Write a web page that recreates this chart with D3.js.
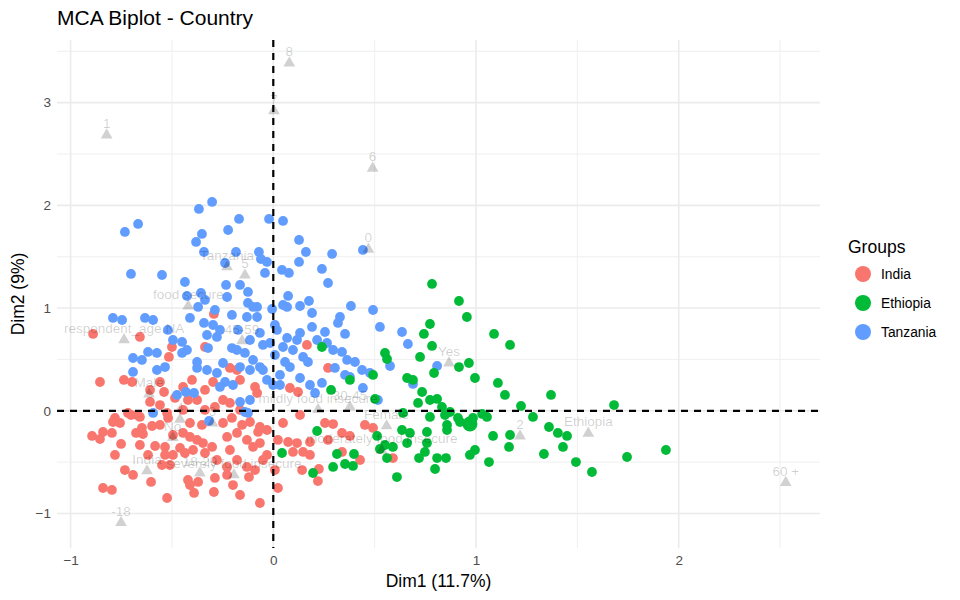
<!DOCTYPE html>
<html><head><meta charset="utf-8">
<script src="https://cdn.jsdelivr.net/npm/d3@7"></script>
<style>body{margin:0;background:#fff}svg{font-family:"Liberation Sans",Arial,Helvetica,sans-serif}</style>
</head><body><svg id="c" width="960" height="600"></svg>
<script>
// ---- data (Dim1, Dim2 coordinates) ----
const groups = ["India", "Ethiopia", "Tanzania"];
const groupColors = ["#F8766D", "#00BA38", "#619CFF"];

const india = [[-0.889,0.748],[-0.658,0.719],[-0.293,0.943],[-0.500,0.621],[-0.337,0.621],[-0.515,0.524],[-0.855,0.280],[-0.737,0.300],[-0.697,0.280],[-0.559,0.280],[-0.539,0.183],[-0.401,0.300],[-0.445,0.232],[-0.337,0.203],[-0.297,0.280],[-0.214,0.417],[-0.179,0.397],[-0.164,0.300],[-0.090,0.232],[-0.080,0.173],[-0.608,0.086],[-0.559,0.056],[-0.524,-0.021],[-0.421,0.105],[-0.376,0.105],[-0.248,0.105],[-0.214,0.076],[-0.288,0.037],[-0.445,0.008],[-0.702,-0.041],[-0.781,-0.070],[-0.658,-0.060],[-0.519,-0.070],[0.166,0.641],[0.270,0.417],[0.082,0.222],[0.122,0.183],[-0.066,-0.158],[0.048,-0.119],[0.132,-0.041],[0.255,-0.119],[0.295,-0.129],[0.339,-0.216],[0.378,-0.245],[0.452,-0.138],[0.492,-0.167],[0.181,-0.304],[0.270,-0.284],[0.117,-0.314],[0.073,-0.304],[0.023,-0.284],[0.097,-0.401],[0.147,-0.401],[0.181,-0.430],[-0.031,-0.430],[-0.066,-0.314],[0.428,-0.479],[0.590,-0.460],[0.142,-0.577],[0.225,-0.567],[0.220,-0.684],[0.023,-0.752],[-0.066,-0.898],[0.339,-0.401],[-0.894,-0.245],[-0.855,-0.275],[-0.840,-0.206],[-0.796,-0.216],[-0.791,-0.109],[-0.756,-0.119],[-0.751,-0.323],[-0.677,-0.216],[-0.643,-0.226],[-0.648,-0.167],[-0.598,-0.148],[-0.717,-0.021],[-0.672,-0.041],[-0.411,-0.119],[-0.352,-0.138],[-0.248,-0.119],[-0.204,-0.070],[-0.154,-0.138],[-0.115,-0.109],[-0.075,-0.206],[-0.031,-0.187],[-0.495,-0.236],[-0.445,-0.216],[-0.411,-0.255],[-0.376,-0.284],[-0.347,-0.314],[-0.302,-0.352],[-0.228,-0.255],[-0.179,-0.216],[-0.130,-0.284],[-0.100,-0.352],[-0.583,-0.343],[-0.534,-0.352],[-0.534,-0.430],[-0.495,-0.430],[-0.618,-0.430],[-0.549,-0.528],[-0.510,-0.528],[-0.436,-0.411],[-0.396,-0.382],[-0.337,-0.411],[-0.278,-0.479],[-0.228,-0.547],[-0.179,-0.479],[-0.130,-0.547],[-0.090,-0.577],[-0.051,-0.479],[-0.732,-0.577],[-0.692,-0.625],[-0.603,-0.693],[-0.421,-0.674],[-0.371,-0.693],[-0.391,-0.800],[-0.288,-0.654],[-0.293,-0.791],[-0.228,-0.625],[-0.199,-0.723],[-0.120,-0.645],[-0.840,-0.752],[-0.796,-0.771],[-0.524,-0.849],[-0.411,-0.723],[-0.608,0.203],[-0.485,0.125],[-0.337,0.008],[-0.164,0.008],[-0.460,-0.362],[-0.658,-0.333],[-0.781,-0.430],[-0.214,-0.382],[0.008,-0.577],[-0.164,-0.820],[-0.559,-0.138]];

const tanzania = [[-0.302,2.033],[-0.367,1.965],[-0.667,1.819],[-0.732,1.741],[-0.169,1.868],[-0.223,1.760],[-0.352,1.722],[-0.381,1.644],[-0.021,1.868],[-0.342,1.546],[-0.184,1.546],[-0.071,1.546],[-0.061,1.478],[-0.031,1.449],[-0.238,1.439],[-0.041,1.342],[-0.702,1.332],[-0.549,1.322],[-0.436,1.254],[-0.233,1.225],[-0.164,1.225],[-0.125,1.157],[-0.357,1.147],[-0.426,1.118],[-0.228,1.108],[-0.125,1.050],[-0.080,1.011],[-0.371,1.011],[0.048,1.848],[0.127,1.663],[0.161,1.546],[0.290,1.527],[0.442,1.566],[0.127,1.449],[0.043,1.371],[0.077,1.342],[0.240,1.381],[0.270,1.244],[0.073,1.118],[0.176,1.069],[0.048,1.030],[0.132,1.020],[0.383,1.020],[0.492,0.981],[-0.006,0.991],[-0.791,0.904],[-0.746,0.884],[-0.633,0.904],[-0.593,0.884],[-0.342,0.855],[-0.297,0.835],[-0.278,0.719],[-0.327,0.738],[-0.263,0.787],[-0.495,0.689],[-0.450,0.670],[-0.426,0.592],[-0.450,0.563],[-0.618,0.573],[-0.574,0.563],[-0.322,0.611],[-0.204,0.611],[-0.179,0.592],[-0.140,0.563],[-0.100,0.495],[-0.066,0.426],[-0.248,0.465],[-0.376,0.475],[-0.692,0.514],[-0.648,0.495],[-0.692,0.378],[-0.574,0.397],[-0.534,0.426],[-0.376,0.417],[-0.327,0.397],[-0.278,0.368],[-0.238,0.280],[-0.199,0.251],[-0.263,0.232],[-0.431,0.183],[-0.391,0.173],[-0.475,0.154],[-0.164,0.086],[-0.115,0.105],[-0.140,-0.012],[-0.593,-0.021],[-0.100,1.011],[-0.080,0.913],[-0.130,0.913],[-0.066,0.758],[-0.051,0.641],[-0.115,0.397],[0.068,1.011],[0.191,0.952],[0.329,0.913],[0.319,0.855],[0.191,0.816],[0.255,0.767],[0.354,0.748],[0.526,0.816],[0.635,0.767],[0.664,0.650],[0.132,0.758],[0.117,0.689],[0.068,0.709],[0.018,0.787],[0.008,0.835],[-0.016,0.660],[0.048,0.621],[0.097,0.592],[0.216,0.689],[0.265,0.660],[0.295,0.592],[0.339,0.573],[0.364,0.495],[0.403,0.475],[0.147,0.524],[0.171,0.475],[0.082,0.426],[0.304,0.417],[0.354,0.349],[0.438,0.397],[0.477,0.368],[0.576,0.436],[0.378,0.329],[-0.051,0.397],[0.033,0.349],[-0.031,0.300],[0.132,0.319],[0.181,0.251],[0.240,0.271],[0.206,0.173],[0.033,0.251],[-0.001,0.251],[0.442,0.222],[0.516,0.105],[0.689,0.261],[0.808,0.436],[-0.317,-0.099],[-0.125,-0.021],[-0.337,1.079],[-0.288,0.982],[-0.204,0.933],[-0.174,0.787],[-0.411,0.904],[-0.520,0.787],[-0.115,0.689],[0.008,0.543],[0.058,0.475],[-0.164,0.426]];

const ethiopia = [[0.783,1.235],[0.916,1.069],[0.955,0.913],[0.773,0.845],[0.743,0.748],[0.783,0.631],[0.551,0.563],[0.561,0.504],[0.724,0.524],[0.916,0.426],[0.965,0.465],[0.793,0.368],[0.995,0.319],[0.660,0.319],[0.689,0.300],[0.240,0.621],[0.378,0.300],[0.492,0.349],[0.285,0.203],[0.734,0.183],[0.714,0.076],[0.773,0.105],[0.808,0.115],[0.832,0.037],[0.502,0.115],[0.872,-0.012],[0.773,-0.060],[0.911,-0.070],[0.985,-0.070],[0.640,-0.021],[1.089,0.748],[1.168,0.641],[1.108,0.271],[1.143,0.154],[1.222,0.047],[1.370,0.154],[1.681,0.056],[1.030,-0.031],[1.054,-0.060],[1.281,-0.060],[1.084,-0.245],[1.168,-0.236],[1.163,-0.352],[1.360,-0.158],[1.404,-0.216],[1.449,-0.245],[1.429,-0.352],[1.335,-0.421],[1.493,-0.499],[1.572,-0.596],[1.745,-0.450],[1.937,-0.382],[0.995,-0.382],[0.970,-0.430],[1.064,-0.499],[0.847,-0.041],[0.921,-0.109],[0.857,-0.138],[0.857,-0.187],[0.758,-0.206],[0.635,-0.187],[0.674,-0.216],[0.512,-0.245],[0.551,-0.333],[0.590,-0.352],[0.526,-0.372],[0.561,-0.460],[0.660,-0.314],[0.758,-0.314],[0.748,-0.401],[0.719,-0.460],[0.808,-0.460],[0.852,-0.460],[0.798,-0.567],[0.610,-0.645],[0.216,-0.197],[0.043,-0.411],[0.314,-0.421],[0.398,-0.421],[0.354,-0.518],[0.393,-0.537],[0.295,-0.547],[0.196,-0.606]];

// group mean point visible in the chart
const ethiopiaMean = [0.970, -0.129];

// supplementary variable categories
const catLabels = ["1","8","7","6","0","Tanzania","5","food secure","respondent_age.NA","45-59","Male","Yes","mildly food insecure","30-45","4","3","No","India","18-29","severely food insecure","-18","Female","moderately food insecure","2","Ethiopia","60 +"];
const catX = [-0.822,0.079,0.003,0.490,0.469,-0.228,-0.140,-0.420,-0.736,-0.154,-0.613,0.867,0.221,0.378,-0.460,-0.300,-0.496,-0.623,-0.362,-0.194,-0.751,0.559,0.535,1.217,1.554,2.528];
const catY = [2.695,3.396,2.930,2.370,1.582,1.410,1.330,1.030,0.700,0.690,0.172,0.475,0.020,0.047,-0.073,-0.110,-0.252,-0.576,-0.596,-0.615,-1.080,-0.138,-0.375,-0.236,-0.210,-0.690];

const xMajor = [-1,0,1,2], xMinor = [-0.5,0.5,1.5,2.5];
const yMajor = [-1,0,1,2,3], yMinor = [-0.5,0.5,1.5,2.5,3.5];
const xTitle = "Dim1 (11.7%)", yTitle = "Dim2 (9%)", chartTitle = "MCA Biplot - Country";

// ---- drawing ----
const svg = d3.select("#c");
const P = {l:57, r:820, t:40, b:548};
const x = d3.scaleLinear().domain([-1.067, 2.697]).range([P.l, P.r]);
const y = d3.scaleLinear().domain([-1.336, 3.61]).range([P.b, P.t]);
const color = d3.scaleOrdinal().domain(groups).range(groupColors);

const grid = svg.append("g");
grid.selectAll(".xm").data(xMinor).join("line").attr("x1",d=>x(d)).attr("x2",d=>x(d)).attr("y1",P.t).attr("y2",P.b).attr("stroke","#ebebeb").attr("stroke-width",0.8);
grid.selectAll(".ym").data(yMinor).join("line").attr("y1",d=>y(d)).attr("y2",d=>y(d)).attr("x1",P.l).attr("x2",P.r).attr("stroke","#ebebeb").attr("stroke-width",0.8);
grid.selectAll(".xM").data(xMajor).join("line").attr("x1",d=>x(d)).attr("x2",d=>x(d)).attr("y1",P.t).attr("y2",P.b).attr("stroke","#ebebeb").attr("stroke-width",1.6);
grid.selectAll(".yM").data(yMajor).join("line").attr("y1",d=>y(d)).attr("y2",d=>y(d)).attr("x1",P.l).attr("x2",P.r).attr("stroke","#ebebeb").attr("stroke-width",1.6);

// axes (labels only)
const xAxis = d3.axisBottom(x).tickValues(xMajor).tickSize(0).tickPadding(6).tickFormat(d3.format("d"));
const gx = svg.append("g").attr("transform",`translate(0,${P.b+1})`).call(xAxis);
const yAxis = d3.axisLeft(y).tickValues(yMajor).tickSize(0).tickPadding(6).tickFormat(d3.format("d"));
const gy = svg.append("g").attr("transform",`translate(${P.l},0)`).call(yAxis);
[gx,gy].forEach(g=>{g.select(".domain").remove(); g.selectAll("text").attr("fill","#4d4d4d").style("font-size","13.5px").style("font-family","Liberation Sans, Arial, sans-serif");});

// points
const all = [];
india.forEach(p=>all.push({g:"India",x:p[0],y:p[1]}));
tanzania.forEach(p=>all.push({g:"Tanzania",x:p[0],y:p[1]}));
ethiopia.forEach(p=>all.push({g:"Ethiopia",x:p[0],y:p[1]}));
svg.append("g").selectAll("circle").data(all).join("circle")
  .attr("cx",d=>x(d.x)).attr("cy",d=>y(d.y)).attr("r",4.9).attr("fill",d=>color(d.g));
svg.append("circle").attr("cx",x(ethiopiaMean[0])).attr("cy",y(ethiopiaMean[1])).attr("r",7.5).attr("fill",color("Ethiopia"));

// reference lines
svg.append("line").attr("x1",x(0)).attr("x2",x(0)).attr("y1",P.t).attr("y2",P.b).attr("stroke","#000").attr("stroke-width",2.2).attr("stroke-dasharray","7,6");
svg.append("line").attr("y1",y(0)).attr("y2",y(0)).attr("x1",P.l).attr("x2",P.r).attr("stroke","#000").attr("stroke-width",2.2).attr("stroke-dasharray","7,6");

// supplementary categories
const cats = catLabels.map((l,i)=>({l, x:catX[i], y:catY[i]}));
const tri = d3.symbol().type(d3.symbolTriangle).size(60);
const cg = svg.append("g");
cg.selectAll("path").data(cats).join("path").attr("d",tri)
  .attr("transform",d=>`translate(${x(d.x)},${y(d.y)+1})`).attr("fill","#000").attr("fill-opacity",0.18);
cg.selectAll("text").data(cats).join("text").attr("x",d=>x(d.x)).attr("y",d=>y(d.y)-6)
  .attr("text-anchor","middle").attr("fill","#000").attr("fill-opacity",0.19).style("font-size","13.5px").text(d=>d.l);

// titles
svg.append("text").attr("x",P.l).attr("y",25).style("font-size","21px").attr("fill","#000").text(chartTitle);
svg.append("text").attr("x",(P.l+P.r)/2).attr("y",587).attr("text-anchor","middle").style("font-size","17.5px").text(xTitle);
svg.append("text").attr("transform",`translate(24,${(P.t+P.b)/2}) rotate(-90)`).attr("text-anchor","middle").style("font-size","17.5px").text(yTitle);

// legend
const lg = svg.append("g");
lg.append("text").attr("x",848).attr("y",253).style("font-size","17.5px").text("Groups");
groups.forEach((g,i)=>{
  const cy = 274 + i*29;
  lg.append("circle").attr("cx",863).attr("cy",cy).attr("r",8).attr("fill",color(g));
  lg.append("text").attr("x",881).attr("y",cy+5).style("font-size","13.8px").text(g);
});
</script></body></html>
